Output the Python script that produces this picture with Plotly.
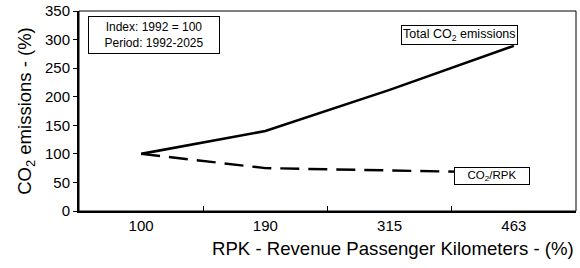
import plotly.graph_objects as go

categories = ["100", "190", "315", "463"]
total_co2 = [100, 140, 212, 289]
co2_per_rpk = [100, 75, 71, 67]
y_ticks = [0, 50, 100, 150, 200, 250, 300, 350]

FONT = "Liberation Sans, Arial, sans-serif"

fig = go.Figure()
fig.add_trace(go.Scatter(x=categories, y=total_co2, mode="lines",
                         line=dict(color="black", width=2.6), showlegend=False))
fig.add_trace(go.Scatter(x=categories, y=co2_per_rpk, mode="lines",
                         line=dict(color="black", width=2.4, dash="19px,9px"), showlegend=False))

L, R, T, B = 79, 4, 11, 57
W, H = 580, 268
pw, ph = W - L - R, H - T - B

def px(x):
    return (x - L) / pw

def py(y):
    return (H - B - y) / ph

fig.add_shape(type="rect", xref="paper", yref="paper", x0=0, x1=1, y0=0, y1=1,
              line=dict(color="black", width=1))

fig.add_annotation(x=px(154), y=py(35), xref="paper", yref="paper", showarrow=False,
                   xanchor="center", yanchor="middle",
                   text="Index: 1992 = 100<br>Period: 1992-2025", align="center",
                   font=dict(family=FONT, size=12, color="black"),
                   bordercolor="black", borderwidth=1, borderpad=3, width=124, bgcolor="white")
fig.add_annotation(x=px(459), y=py(34.5), xref="paper", yref="paper", showarrow=False,
                   xanchor="center", yanchor="middle",
                   text="Total CO<sub>2</sub> emissions",
                   font=dict(family=FONT, size=12.5, color="black"),
                   bordercolor="black", borderwidth=1, borderpad=1, bgcolor="white")
fig.add_annotation(x=px(492), y=py(176), xref="paper", yref="paper", showarrow=False,
                   xanchor="center", yanchor="middle",
                   text="CO<sub>2</sub>/RPK",
                   font=dict(family=FONT, size=11.5, color="black"),
                   bordercolor="black", borderwidth=1, borderpad=1, width=72, bgcolor="white")
# x-axis title (offset to the right as in the reference)
fig.add_annotation(x=px(576), y=py(248), xref="paper", yref="paper", showarrow=False,
                   xanchor="right", yanchor="middle",
                   text="RPK - Revenue Passenger Kilometers - (%)",
                   font=dict(family=FONT, size=18.6, color="black"))

fig.update_layout(
    width=W, height=H,
    margin=dict(l=L, r=R, t=T, b=B, autoexpand=False),
    plot_bgcolor="white", paper_bgcolor="white",
    font=dict(family=FONT, size=15, color="black"),
    xaxis=dict(type="category", range=[-0.5, 3.5], tickson="boundaries",
               ticks="inside", ticklen=5, tickwidth=1, tickcolor="black",
               showline=True, linecolor="black", linewidth=2, showgrid=False,
               zeroline=False, tickfont=dict(size=15)),
    yaxis=dict(range=[0, 350], tickvals=y_ticks, ticks="outside", ticklen=4,
               tickwidth=1, tickcolor="black", showline=True, linecolor="black",
               linewidth=2, showgrid=False, zeroline=False, tickfont=dict(size=15),
               title=dict(text="CO<sub>2</sub> emissions - (%)", font=dict(size=18.5), standoff=8)),
)

fig.write_html("out.html", config={"displayModeBar": False},
               post_script="document.body.style.margin='0px';")
